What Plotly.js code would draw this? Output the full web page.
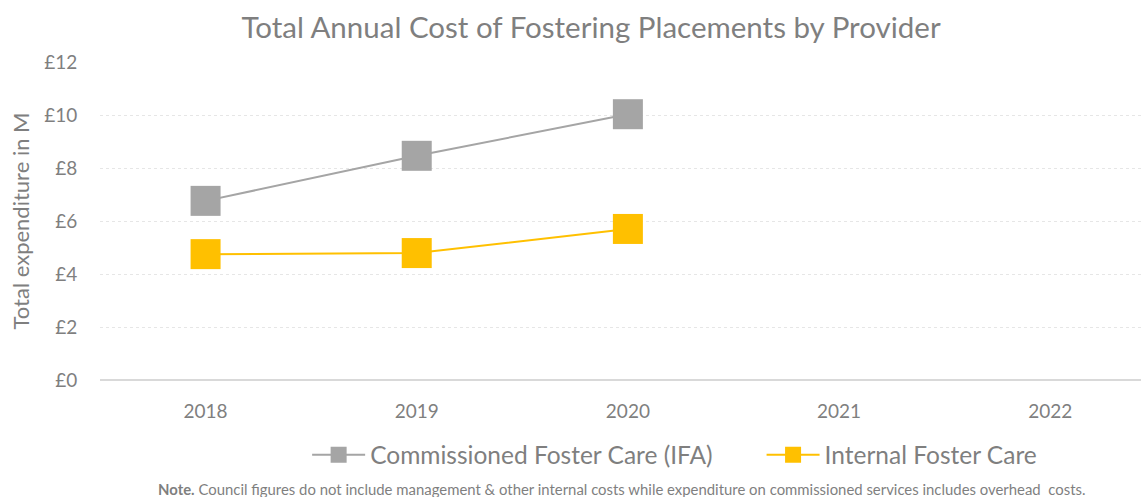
<!DOCTYPE html>
<html>
<head>
<meta charset="utf-8">
<script src="https://cdn.plot.ly/plotly-3.0.1.min.js"></script>
<style>html,body{margin:0;padding:0;background:#fff;}#chart{width:1141px;height:497px;}</style>
</head>
<body>
<div id="chart"></div>
<script>
const years = ["2018", "2019", "2020", "2021", "2022"];
const commissioned = [6.76, 8.46, 10.03, null, null];
const internal = [4.75, 4.79, 5.70, null, null];
const yTickVals = [0, 2, 4, 6, 8, 10, 12];
const yTickText = ["£0", "£2", "£4", "£6", "£8", "£10", "£12"];
const seriesNames = ["Commissioned Foster Care (IFA)", "Internal Foster Care"];

const FONT = "Lato, 'Open Sans', sans-serif";
const TXT = "#7f7f7f";
const GAP = "\u00a0".repeat(7);

const traces = [
  {x: years, y: commissioned, name: seriesNames[0] + GAP, type: "scatter", mode: "lines+markers",
   line: {color: "#a5a5a5", width: 2}, marker: {symbol: "square", size: 30, color: "#a5a5a5"}},
  {x: years, y: internal, name: seriesNames[1], type: "scatter", mode: "lines+markers",
   line: {color: "#ffc000", width: 2}, marker: {symbol: "square", size: 30, color: "#ffc000"}}
];

const layout = {
  width: 1141, height: 497,
  margin: {l: 100, r: 0, t: 62, b: 117},
  paper_bgcolor: "#fff", plot_bgcolor: "#fff",
  font: {family: FONT, color: TXT},
  showlegend: true,
  title: {text: "Total Annual Cost of Fostering Placements by Provider", font: {size: 29.5, color: TXT, family: FONT},
          x: 0.518, xanchor: "center", y: 0.945, yanchor: "middle"},
  xaxis: {type: "category", range: [-0.5, 4.43], showgrid: false, zeroline: false,
          showline: false, ticks: "outside", ticklen: 14, tickcolor: "rgba(0,0,0,0)",
          tickfont: {size: 19, color: TXT, family: FONT}, fixedrange: true},
  yaxis: {range: [0, 12], tickvals: yTickVals, ticktext: yTickText, showgrid: true,
          gridcolor: "#e6e6e6", griddash: "dot", gridwidth: 1, zeroline: true, zerolinecolor: "#d9d9d9", zerolinewidth: 2,
          showline: false, ticks: "outside", ticklen: 18, tickcolor: "rgba(0,0,0,0)",
          tickfont: {size: 19, color: TXT, family: FONT},
          title: {text: "Total expenditure in M", font: {size: 22, color: TXT, family: FONT}, standoff: 8}},
  legend: {orientation: "h", x: 0.552, xanchor: "center", y: -0.235, yanchor: "middle",
           font: {size: 24.5, color: TXT, family: FONT}, itemwidth: 53, traceorder: "normal"},
  annotations: [{
    xref: "paper", yref: "paper", x: 0.501, y: -0.343, xanchor: "center", yanchor: "middle", showarrow: false,
    text: "<b>Note.</b> Council figures do not include management & other internal costs while expenditure on commissioned services includes overhead  costs.",
    font: {size: 14.9, color: TXT, family: FONT}
  }]
};

Plotly.newPlot("chart", traces, layout, {displayModeBar: false, staticPlot: true});
</script>
</body>
</html>
